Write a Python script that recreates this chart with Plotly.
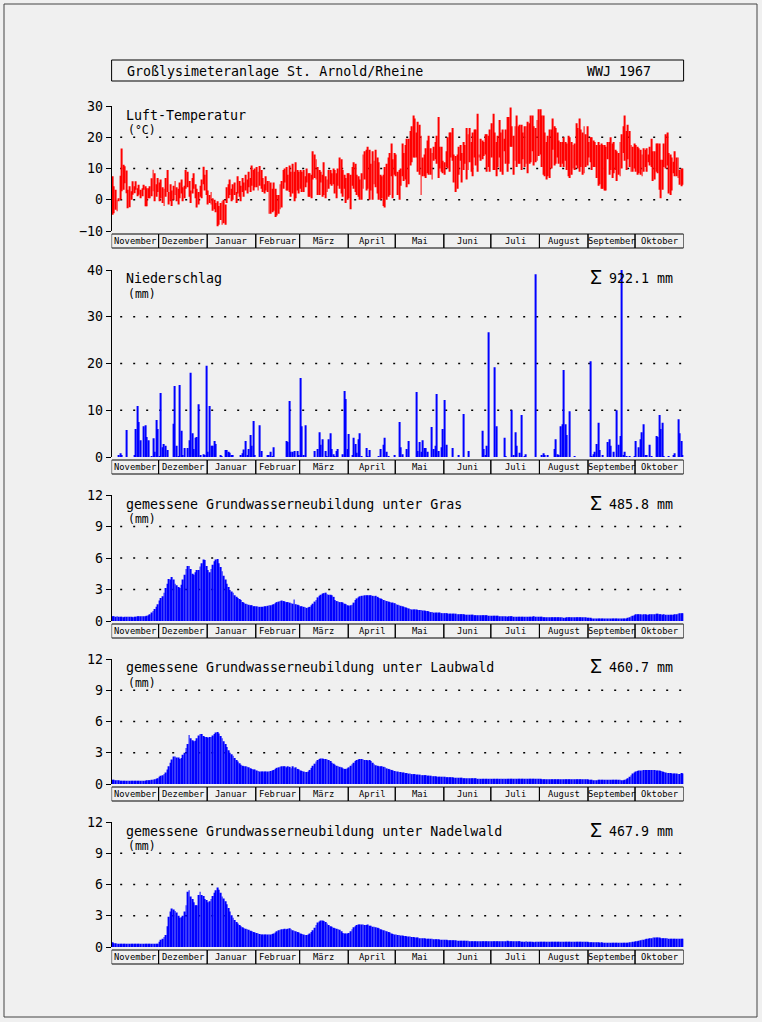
import plotly.graph_objects as go

# ---------------- data ----------------
months = ["November", "Dezember", "Januar", "Februar", "März", "April",
          "Mai", "Juni", "Juli", "August", "September", "Oktober"]
month_days = [30, 31, 31, 28, 31, 30, 31, 30, 31, 31, 30, 31]

# daily air temperature, maximum and minimum (°C)
tmax_nov = [7.5,4.3,3.2,0.0,0.5,7.7,16.4,11.2,10.7,9.4,3.2,4.3,2.7,5.9,4.3,5.9,3.7,4.8,3.2,3.7,4.8,4.3,3.7,3.7,4.3,6.9,9.6,8.5,5.0,7.0]
tmin_nov = [-4.8,-4.3,-3.2,-3.7,-0.5,0.0,2.7,3.2,5.3,2.1,-2.7,-2.4,0.0,1.6,2.1,3.2,1.1,1.6,0.5,1.1,3.2,-2.1,-2.1,0.5,0.5,1.1,2.7,-0.5,1.0,2.5]
tmax_dec = [5.5,6.5,4.0,3.5,7.0,9.5,2.5,5.0,3.0,4.5,6.0,4.0,3.5,5.5,6.5,4.0,4.5,9.5,9.0,6.0,3.0,7.0,8.5,5.0,3.5,2.5,4.5,6.5,10.6,8.0,9.5]
tmin_dec = [-0.5,0.5,-1.0,-2.0,1.0,2.5,-1.5,-0.5,-2.0,0.0,1.5,-0.5,-1.5,0.5,2.0,-0.5,0.5,3.5,4.0,1.0,-1.0,2.0,3.5,0.5,-2.5,-1.5,1.0,0.5,5.0,3.0,1.5]
tmax_jan = [3.0,1.5,2.5,0.5,0.0,-1.0,-0.5,-2.0,-1.0,-0.5,0.0,-1.5,4.0,5.0,6.5,3.5,5.0,5.5,2.5,7.5,6.0,4.5,7.0,5.5,8.0,6.5,9.0,7.0,11.0,9.5,10.0]
tmin_jan = [-1.5,-1.0,-1.5,-3.5,-3.0,-4.0,-8.5,-8.0,-6.5,-8.0,-7.5,-8.0,-1.0,0.5,1.5,-0.5,0.0,1.5,-1.0,2.0,1.0,-0.5,2.5,1.0,3.0,2.0,4.0,2.5,4.5,3.0,4.0]
tmax_feb = [10.5,9.0,10.8,9.5,7.0,5.0,7.5,6.0,6.0,5.5,3.5,5.5,3.5,1.5,1.5,5.0,6.0,9.5,10.0,10.5,8.0,11.0,9.0,11.5,9.0,12.0,9.5,9.0]
tmin_feb = [4.0,3.0,4.5,3.5,2.5,2.0,3.0,2.5,-4.5,-4.5,-4.0,-3.5,-5.5,-5.0,-4.5,-3.0,-2.5,3.5,5.5,3.0,3.0,2.5,1.0,2.0,-0.5,0.5,3.0,2.0]
tmax_mar = [9.5,9.0,9.5,7.5,10.0,8.5,8.5,8.0,15.5,14.5,13.0,10.5,9.5,9.0,8.0,12.0,7.5,6.5,9.5,9.5,8.5,10.0,9.5,8.5,10.0,13.5,13.0,9.5,8.0,7.0,8.5]
tmin_mar = [3.5,2.5,2.5,4.0,5.5,1.0,1.0,0.5,6.5,7.0,6.5,1.5,1.5,5.5,1.0,1.5,0.5,2.5,3.5,5.0,4.5,5.0,2.0,0.5,4.5,3.5,2.0,1.0,3.5,-1.0,0.0]
tmax_apr = [8.5,8.0,10.5,12.0,11.5,8.0,7.5,6.5,8.5,14.5,15.5,16.0,17.0,16.0,11.5,15.5,12.5,16.0,13.5,12.0,8.0,7.5,8.0,10.5,11.5,13.5,15.0,18.0,13.0,15.0]
tmin_apr = [0.5,-3.0,4.5,3.5,2.5,1.5,1.0,0.0,0.0,3.5,6.5,3.0,3.5,0.0,3.0,0.0,5.0,4.0,2.0,0.0,0.0,0.5,-2.0,-2.5,0.0,1.0,1.5,7.5,0.5,8.0]
tmax_may = [14.5,9.0,9.5,10.0,18.0,15.0,17.5,19.5,19.5,22.0,23.5,27.0,26.0,21.5,25.0,24.0,20.5,13.5,14.5,16.5,19.0,20.5,16.5,15.0,17.0,18.5,20.5,26.5,17.0,17.0,12.5]
tmin_may = [7.5,1.5,0.0,4.5,7.5,6.0,6.5,4.0,5.0,11.0,12.0,13.5,13.5,13.5,9.0,8.0,1.5,7.5,7.5,7.0,8.5,8.0,8.0,6.5,12.5,13.0,11.5,7.0,10.0,9.0,8.5]
tmax_jun = [12.0,15.5,20.0,21.5,21.5,23.0,14.5,14.0,14.5,17.0,17.5,15.0,18.5,17.5,23.0,21.0,23.0,18.5,21.5,22.5,22.5,27.5,14.5,19.5,19.0,18.5,21.0,21.0,20.5,22.5]
tmin_jun = [8.0,10.5,10.0,9.0,13.5,12.5,5.5,2.5,3.5,8.0,12.5,5.5,9.5,11.5,6.5,9.5,12.0,9.0,7.5,13.5,11.0,9.0,13.5,12.5,13.0,14.0,14.5,9.0,10.5,9.0]
tmax_jul = [24.5,27.5,21.5,18.5,20.5,25.5,21.5,22.5,19.5,22.5,26.5,26.5,29.5,23.5,20.5,23.5,27.0,23.5,24.0,24.0,21.5,23.5,23.5,25.0,24.5,27.0,27.0,23.5,23.0,25.5,29.0]
tmin_jul = [13.5,9.5,9.5,7.5,10.5,13.5,9.0,8.0,15.5,11.5,9.0,11.5,17.0,17.0,8.0,12.5,10.5,11.5,11.5,9.5,13.0,10.5,11.5,8.5,11.5,12.0,15.5,11.0,12.0,12.5,14.0]
tmax_aug = [29.0,27.0,27.0,21.5,18.5,20.5,22.5,22.5,26.0,23.5,23.0,21.5,19.0,18.5,18.5,20.0,18.5,18.0,20.5,20.0,18.5,17.5,18.0,24.5,23.0,26.0,22.5,21.5,23.5,21.0,23.5]
tmin_aug = [14.5,10.5,8.0,7.5,6.5,7.5,7.0,10.0,16.0,11.0,11.5,13.5,11.5,10.5,11.5,10.5,12.5,9.5,7.5,7.0,8.0,10.0,9.5,11.0,10.0,9.0,10.5,8.0,8.5,10.5,11.0]
tmax_sep = [18.5,20.0,20.0,19.0,18.5,17.5,18.5,17.5,18.0,17.5,17.5,17.0,18.5,18.5,20.0,18.0,18.5,16.0,15.5,15.0,18.5,21.0,23.5,27.0,22.0,24.0,22.0,17.5,17.0,18.0]
tmin_sep = [13.5,12.0,9.5,10.5,10.5,7.0,4.5,5.0,3.5,3.5,3.0,3.0,13.0,8.0,9.5,7.0,8.5,9.5,6.0,8.0,7.5,10.0,15.0,12.5,9.5,13.0,10.5,9.0,9.0,10.0]
tmax_oct = [17.5,17.0,16.5,16.0,14.5,16.5,16.0,16.5,14.5,17.0,19.5,15.5,15.5,18.0,18.0,18.0,12.8,12.8,18.0,21.0,21.5,15.0,14.5,13.5,12.2,15.5,13.5,13.5,9.5,10.0,10.0]
tmin_oct = [9.0,8.0,8.5,8.0,7.5,9.0,10.5,9.0,12.0,11.0,10.5,6.0,6.5,9.0,8.5,3.2,0.5,3.2,10.5,10.0,11.0,2.0,1.5,3.0,8.5,7.5,7.5,7.0,4.8,4.3,4.8]

# daily precipitation (only days with rain): day index from 1 Nov 1966, mm
precip_day = [4,5,6,9,14,15,16,17,18,20,21,22,23,25,26,27,28,29,30,31,32,33,34,35,39,40,41,42,43,44,45,46,48,49,50,
              51,52,53,54,55,56,58,59,60,61,62,63,64,65,66,69,70,72,73,74,75,76,77,82,83,84,85,86,87,88,89,90,91,94,95,
              99,100,101,102,103,111,112,113,114,115,116,118,119,120,121,122,123,129,131,132,133,134,136,137,138,139,
              140,141,142,143,144,147,148,149,150,151,153,154,155,156,157,158,159,162,163,164,170,171,173,174,175,176,
              180,183,184,185,188,189,194,195,196,197,198,199,200,201,204,205,206,207,208,210,211,212,213,217,221,224,
              227,236,237,238,239,240,244,245,250,251,255,256,257,258,260,261,263,264,270,274,275,276,278,282,283,284,
              285,286,287,288,289,290,292,295,305,306,307,308,309,310,311,313,316,317,318,320,322,323,324,325,326,327,
              328,330,333,334,336,337,338,339,340,341,343,344,347,348,349,350,351,352,355,358,359,361,362,363,364]
precip_mm = [0.4,0.8,0.4,5.8,0.4,6.0,10.9,7.5,3.6,6.6,6.8,4.3,3.6,0.2,4.0,1.1,7.9,6.0,0.1,13.7,2.1,2.8,2.4,1.5,7.1,15.2,2.4,0.2,15.4,5.6,0.4,1.9,1.9,3.6,18.0,
             5.1,1.7,4.1,4.3,11.3,0.4,0.6,0.4,19.5,1.1,10.9,2.4,2.4,3.4,2.8,0.4,0.2,1.5,1.5,1.1,0.9,0.3,0.3,0.4,0.8,1.6,3.4,0.4,1.7,4.7,2.4,7.7,0.4,6.8,1.3,
             0.4,0.4,1.1,0.1,2.1,3.4,3.2,12.0,1.1,1.1,1.3,1.3,0.3,16.9,6.6,0.4,6.8,1.3,1.7,5.3,2.6,3.8,1.3,0.1,3.8,5.1,
             1.7,0.6,0.1,1.3,1.7,0.6,14.1,12.4,1.7,4.9,0.4,4.1,2.8,0.9,3.8,5.1,0.1,1.9,0.2,1.5,0.1,1.7,2.6,4.1,1.1,0.2,
             0.4,7.5,2.1,0.6,1.7,3.4,13.9,1.3,3.2,1.1,3.6,1.9,1.9,1.1,6.4,1.7,2.4,13.5,1.3,2.1,6.0,12.2,2.6,1.9,0.4,9.2,
             1.3,5.6,1.7,0.4,2.4,26.7,19.2,6.6,4.1,0.2,10.0,0.4,5.3,2.4,0.9,9.0,0.2,0.6,39.1,0.4,0.8,0.3,0.3,1.7,3.8,0.6,
             0.4,6.6,7.0,18.6,7.0,4.7,9.8,0.1,20.5,0.1,0.6,1.1,2.8,7.3,1.5,0.4,3.2,3.8,2.4,1.1,10.0,2.6,4.5,40.5,0.4,1.1,
             0.1,0.1,0.1,3.4,2.1,3.8,5.3,7.0,0.4,0.4,2.6,0.2,4.5,4.3,9.0,6.0,7.3,0.2,0.2,0.3,0.8,8.1,5.1,3.4,0.4]

# measured groundwater recharge under grass (mm/day)
gras_nov = [0.45,0.45,0.4,0.45,0.4,0.4,0.4,0.35,0.4,0.4,0.4,0.4,0.4,0.35,0.4,0.4,0.45,0.45,0.45,0.45,0.45,0.45,0.5,0.55,0.65,0.8,0.95,1.15,1.35,1.6]
gras_dec = [1.95,2.2,2.35,2.7,3.15,3.55,4.0,3.95,4.2,3.95,3.55,3.4,3.25,3.15,3.45,3.95,4.4,4.95,5.25,5.25,4.95,4.5,4.4,4.65,4.85,4.85,5.2,5.5,5.85,5.8,5.25]
gras_jan = [4.85,4.65,4.95,5.35,5.7,5.85,5.9,5.5,5.15,4.75,4.3,3.95,3.55,3.25,2.95,2.8,2.7,2.45,2.3,2.2,2.1,2.0,1.8,1.75,1.65,1.6,1.55,1.5,1.5,1.4,1.4]
gras_feb = [1.4,1.35,1.35,1.35,1.35,1.4,1.4,1.45,1.5,1.5,1.55,1.6,1.7,1.8,1.85,1.9,1.95,1.9,1.85,1.8,1.8,1.75,1.7,1.65,2.05,1.6,1.55,1.5]
gras_mar = [1.4,1.4,1.35,1.3,1.25,1.3,1.35,1.5,1.65,1.85,2.0,2.25,2.4,2.5,2.6,2.65,2.7,2.55,2.5,2.5,2.45,2.3,2.0,1.9,1.85,1.8,1.8,1.75,1.65,1.6,1.5]
gras_apr = [1.45,1.5,1.55,1.75,2.0,2.15,2.25,2.35,2.4,2.4,2.45,2.45,2.45,2.45,2.45,2.4,2.35,2.4,2.3,2.2,2.15,2.1,2.0,1.95,1.9,1.85,1.8,1.75,1.75,1.7]
gras_may = [1.6,1.55,1.5,1.45,1.4,1.35,1.3,1.25,1.2,1.15,1.1,1.1,1.1,1.1,1.05,1.05,1.05,1.0,1.0,0.95,0.95,0.9,0.85,0.85,0.8,0.8,0.8,0.8,0.8,0.75,0.75]
gras_jun = [0.75,0.75,0.7,0.7,0.7,0.7,0.7,0.7,0.65,0.65,0.65,0.65,0.65,0.6,0.6,0.6,0.6,0.6,0.6,0.55,0.55,0.55,0.55,0.55,0.55,0.55,0.55,0.55,0.5,0.5]
gras_jul = [0.5,0.5,0.5,0.5,0.5,0.45,0.45,0.45,0.45,0.45,0.4,0.45,0.45,0.45,0.4,0.4,0.4,0.4,0.4,0.4,0.4,0.4,0.4,0.4,0.4,0.4,0.4,0.45,0.4,0.4,0.4]
gras_aug = [0.4,0.4,0.35,0.35,0.35,0.35,0.35,0.35,0.35,0.35,0.35,0.35,0.35,0.35,0.35,0.3,0.3,0.35,0.35,0.35,0.35,0.35,0.35,0.35,0.35,0.35,0.35,0.35,0.35,0.35,0.3]
gras_sep = [0.3,0.3,0.25,0.25,0.25,0.25,0.25,0.25,0.25,0.25,0.25,0.25,0.25,0.25,0.25,0.25,0.25,0.25,0.25,0.25,0.25,0.25,0.25,0.25,0.25,0.3,0.35,0.45,0.5,0.55]
gras_oct = [0.65,0.65,0.65,0.65,0.6,0.65,0.65,0.6,0.6,0.65,0.65,0.65,0.65,0.7,0.7,0.65,0.65,0.6,0.65,0.6,0.6,0.6,0.6,0.6,0.6,0.65,0.65,0.7,0.75,0.75,0.75]

# measured groundwater recharge under deciduous forest (mm/day)
laub_nov = [0.4,0.4,0.35,0.35,0.35,0.3,0.3,0.3,0.3,0.3,0.3,0.3,0.3,0.3,0.3,0.3,0.3,0.3,0.3,0.3,0.3,0.3,0.35,0.35,0.35,0.4,0.4,0.45,0.5,0.55]
laub_dec = [0.7,0.8,0.85,0.95,1.1,1.4,1.7,2.05,2.35,2.65,2.65,2.55,2.55,2.4,2.5,2.8,3.0,3.45,3.85,4.7,4.4,4.2,4.1,4.15,4.4,4.65,4.8,4.8,4.6,4.5,4.5]
laub_jan = [4.45,4.5,4.5,4.65,4.8,4.95,5.0,4.85,4.6,4.4,4.1,3.85,3.55,3.25,3.0,2.85,2.7,2.5,2.3,2.15,2.0,1.85,1.75,1.7,1.7,1.65,1.6,1.5,1.45,1.4,1.4]
laub_feb = [1.3,1.25,1.2,1.2,1.2,1.2,1.2,1.2,1.2,1.25,1.3,1.35,1.45,1.55,1.6,1.65,1.7,1.7,1.7,1.6,1.7,1.65,1.5,1.7,1.55,1.6,1.45,1.4]
laub_mar = [1.3,1.25,1.2,1.15,1.15,1.2,1.35,1.55,1.75,1.95,2.15,2.3,2.4,2.45,2.45,2.4,2.4,2.35,2.3,2.2,2.05,1.95,1.85,1.75,1.7,1.65,1.6,1.5,1.45,1.45,1.5]
laub_apr = [1.6,1.75,1.9,2.05,2.2,2.3,2.35,2.4,2.4,2.35,2.3,2.3,2.25,2.3,2.2,2.05,1.9,1.8,1.75,1.7,1.7,1.7,1.65,1.6,1.5,1.45,1.4,1.35,1.3,1.25]
laub_may = [1.2,1.2,1.15,1.15,1.1,1.1,1.05,1.05,1.0,1.0,0.95,0.95,0.95,0.9,0.9,0.9,0.85,0.85,0.85,0.85,0.8,0.8,0.8,0.75,0.75,0.75,0.7,0.7,0.7,0.7,0.7]
laub_jun = [0.7,0.65,0.65,0.65,0.65,0.65,0.6,0.6,0.6,0.6,0.6,0.6,0.55,0.55,0.55,0.55,0.55,0.55,0.55,0.55,0.55,0.5,0.5,0.5,0.5,0.5,0.5,0.5,0.5,0.5]
laub_jul = [0.5,0.5,0.5,0.5,0.5,0.5,0.5,0.5,0.5,0.5,0.5,0.5,0.5,0.5,0.5,0.5,0.5,0.5,0.5,0.5,0.5,0.5,0.5,0.5,0.5,0.5,0.5,0.5,0.5,0.5,0.5]
laub_aug = [0.5,0.45,0.45,0.45,0.45,0.45,0.45,0.45,0.45,0.45,0.45,0.45,0.45,0.45,0.45,0.45,0.45,0.45,0.45,0.45,0.45,0.45,0.45,0.45,0.45,0.45,0.45,0.45,0.45,0.45,0.45]
laub_sep = [0.4,0.4,0.4,0.35,0.35,0.35,0.4,0.4,0.4,0.4,0.4,0.4,0.4,0.4,0.4,0.4,0.4,0.4,0.4,0.4,0.4,0.35,0.35,0.4,0.45,0.55,0.7,0.85,1.0,1.1]
laub_oct = [1.2,1.25,1.3,1.3,1.3,1.35,1.35,1.35,1.35,1.35,1.35,1.35,1.35,1.3,1.3,1.3,1.25,1.2,1.15,1.1,1.05,1.05,1.05,1.0,1.0,1.0,1.0,0.95,0.95,1.05,1.0]

# measured groundwater recharge under coniferous forest (mm/day)
nadel_nov = [0.45,0.35,0.35,0.3,0.3,0.3,0.3,0.3,0.3,0.3,0.3,0.3,0.3,0.3,0.3,0.3,0.3,0.3,0.3,0.3,0.3,0.3,0.3,0.3,0.3,0.3,0.3,0.3,0.3,0.3]
nadel_dec = [0.5,0.7,0.8,0.95,1.15,2.0,2.9,3.4,3.7,3.6,3.45,3.3,3.0,2.8,2.85,3.0,3.4,4.0,5.3,5.45,4.85,4.6,4.3,4.0,4.0,5.0,5.3,5.0,4.9,4.6,4.5]
nadel_jan = [4.3,4.4,4.6,4.9,5.2,5.45,5.7,5.5,5.2,4.85,4.65,4.4,4.1,3.75,3.4,3.05,2.8,2.6,2.4,2.25,2.1,2.0,1.9,1.8,1.75,1.7,1.65,1.55,1.5,1.45,1.4]
nadel_feb = [1.35,1.3,1.25,1.2,1.2,1.2,1.2,1.2,1.2,1.2,1.25,1.3,1.4,1.5,1.6,1.65,1.7,1.7,1.75,1.7,1.75,1.8,1.7,1.6,1.55,1.5,1.45,1.4]
nadel_mar = [1.3,1.25,1.2,1.15,1.15,1.2,1.3,1.45,1.6,1.85,2.1,2.35,2.45,2.55,2.55,2.5,2.4,2.25,2.1,2.0,1.95,1.85,1.8,1.75,1.7,1.65,1.5,1.35,1.3,1.3,1.3]
nadel_apr = [1.35,1.5,1.7,1.9,2.0,2.1,2.15,2.15,2.15,2.15,2.1,2.1,2.15,2.05,2.05,1.95,1.95,1.9,1.85,1.8,1.7,1.65,1.6,1.55,1.5,1.45,1.4,1.3,1.25,1.2]
nadel_may = [1.2,1.15,1.15,1.1,1.1,1.05,1.05,1.0,1.0,1.0,0.95,0.95,0.9,0.9,0.9,0.85,0.85,0.85,0.85,0.8,0.8,0.8,0.8,0.8,0.75,0.75,0.75,0.75,0.7,0.7,0.7]
nadel_jun = [0.7,0.7,0.65,0.65,0.65,0.65,0.65,0.65,0.6,0.6,0.6,0.6,0.6,0.6,0.6,0.6,0.55,0.55,0.55,0.55,0.55,0.55,0.55,0.55,0.55,0.55,0.55,0.55,0.55,0.55]
nadel_jul = [0.55,0.55,0.55,0.55,0.55,0.55,0.55,0.55,0.55,0.55,0.6,0.55,0.55,0.55,0.55,0.55,0.55,0.55,0.55,0.5,0.5,0.5,0.55,0.5,0.5,0.5,0.5,0.45,0.5,0.5,0.5]
nadel_aug = [0.5,0.5,0.5,0.5,0.5,0.5,0.5,0.5,0.5,0.5,0.5,0.5,0.5,0.5,0.5,0.5,0.5,0.5,0.5,0.5,0.5,0.5,0.5,0.5,0.5,0.5,0.5,0.5,0.5,0.5,0.5]
nadel_sep = [0.45,0.45,0.45,0.45,0.45,0.45,0.45,0.4,0.45,0.4,0.4,0.4,0.4,0.4,0.4,0.4,0.4,0.4,0.4,0.4,0.4,0.4,0.4,0.4,0.4,0.4,0.45,0.45,0.5,0.5]
nadel_oct = [0.55,0.55,0.6,0.65,0.7,0.7,0.75,0.8,0.8,0.85,0.85,0.9,0.9,0.9,0.9,0.9,0.85,0.85,0.85,0.85,0.85,0.8,0.8,0.8,0.8,0.8,0.8,0.8,0.8,0.8,0.8]

temp_ticks = [-10, 0, 10, 20, 30]
precip_ticks = [0, 10, 20, 30, 40]
gw_ticks = [0, 3, 6, 9, 12]

# ---------------- assemble ----------------
tmax = tmax_nov + tmax_dec + tmax_jan + tmax_feb + tmax_mar + tmax_apr + tmax_may + tmax_jun + tmax_jul + tmax_aug + tmax_sep + tmax_oct
tmin = tmin_nov + tmin_dec + tmin_jan + tmin_feb + tmin_mar + tmin_apr + tmin_may + tmin_jun + tmin_jul + tmin_aug + tmin_sep + tmin_oct
gras = gras_nov + gras_dec + gras_jan + gras_feb + gras_mar + gras_apr + gras_may + gras_jun + gras_jul + gras_aug + gras_sep + gras_oct
laub = laub_nov + laub_dec + laub_jan + laub_feb + laub_mar + laub_apr + laub_may + laub_jun + laub_jul + laub_aug + laub_sep + laub_oct
nadel = nadel_nov + nadel_dec + nadel_jan + nadel_feb + nadel_mar + nadel_apr + nadel_may + nadel_jun + nadel_jul + nadel_aug + nadel_sep + nadel_oct

W, H = 762, 1022
FONT = "DejaVu Sans Mono"


def py(p):
    return 1 - p / H


def px(p):
    return p / W


X0, X1 = 111.6, 683.6
ndays = sum(month_days)

# panels: (top px, bottom px, range, ticks)
panels = [
    (106, 231, [-10, 30], temp_ticks),
    (270, 457, [0, 40], precip_ticks),
    (495, 621, [0, 12], gw_ticks),
    (659, 784, [0, 12], gw_ticks),
    (822, 947, [0, 12], gw_ticks),
]

fig = go.Figure()

temp_days = list(range(len(tmax)))
fig.add_trace(go.Bar(x=temp_days, y=[a - b for a, b in zip(tmax, tmin)], base=tmin,
                     marker=dict(color="#ff0000", line=dict(width=0)), width=0.6,
                     xaxis="x", yaxis="y"))
fig.add_trace(go.Bar(x=precip_day, y=precip_mm, marker=dict(color="#0000ff", line=dict(width=0)),
                     width=0.65, xaxis="x2", yaxis="y2", cliponaxis=True))
for i, series in enumerate([gras, laub, nadel]):
    fig.add_trace(go.Bar(x=list(range(len(series))), y=series,
                         marker=dict(color="#0000ff", line=dict(width=0)), width=0.55,
                         xaxis=f"x{i + 3}", yaxis=f"y{i + 3}"))

layout = dict(
    template="none",
    width=W, height=H, autosize=False,
    margin=dict(l=0, r=0, t=0, b=0, pad=0, autoexpand=False),
    paper_bgcolor="#f0f0f0", plot_bgcolor="rgba(0,0,0,0)",
    showlegend=False, barmode="overlay",
    font=dict(family=FONT, color="black"),
)
shapes = []
annotations = []

for i, (top, bot, rng, ticks) in enumerate(panels):
    n = "" if i == 0 else str(i + 1)
    layout[f"xaxis{n}"] = dict(domain=[px(X0), px(X1)], range=[-0.5, ndays - 0.5],
                               anchor=f"y{n}", visible=False, fixedrange=True, automargin=False)
    layout[f"yaxis{n}"] = dict(domain=[py(bot), py(top)], range=rng, anchor=f"x{n}",
                               tickvals=ticks, ticks="outside", ticklen=5, tickwidth=1,
                               tickcolor="black", showline=True, linecolor="black", linewidth=1,
                               showgrid=False, zeroline=False, fixedrange=True, automargin=False,
                               tickfont=dict(family=FONT, size=13.3, color="black"))
    # dotted grid lines at interior ticks
    for t in ticks[:-1]:
        if i > 0 and t == 0:
            continue
        if i == 0 and t == ticks[0]:
            continue
        shapes.append(dict(type="line", xref=f"x{n} domain", x0=0.015, x1=1.0,
                           yref=f"y{n}", y0=t, y1=t, layer="below",
                           line=dict(color="black", width=1.6, dash="2px,11px")))
    # month boxes
    start = 0
    for m, d in zip(months, month_days):
        shapes.append(dict(type="rect", xref=f"x{n}", yref="paper",
                           x0=start - 0.5, x1=start + d - 0.5,
                           y0=py(bot + 17), y1=py(bot + 3),
                           line=dict(color="black", width=1)))
        annotations.append(dict(text=m, xref=f"x{n}", yref="paper",
                                x=start + d / 2 - 0.5, y=py(bot + 10), showarrow=False,
                                xanchor="center", yanchor="middle",
                                font=dict(family=FONT, size=8.8, color="black")))
        start += d

# title box
shapes.append(dict(type="rect", xref="paper", yref="paper", x0=px(X0), x1=px(X1),
                   y0=py(81), y1=py(60), line=dict(color="black", width=1)))
# outer frame
shapes.append(dict(type="rect", xref="paper", yref="paper", x0=px(4), x1=px(757),
                   y0=py(1017), y1=py(4), line=dict(color="#444444", width=1)))


def label(text, x, y, size=13.3, anchor="left"):
    annotations.append(dict(text=text, xref="paper", yref="paper", x=px(x), y=py(y),
                            showarrow=False, xanchor=anchor, yanchor="middle",
                            font=dict(family=FONT, size=size, color="black")))


label("Großlysimeteranlage St. Arnold/Rheine", 125, 71)
label("WWJ 1967", 653, 71, anchor="right")

label("Luft-Temperatur", 124, 115)
label("(°C)", 126, 130, size=11.5)

label("Niederschlag", 124, 278)
label("(mm)", 126, 294, size=11.5)

label("gemessene Grundwasserneubildung unter Gras", 124, 504)
label("(mm)", 126, 519, size=11.5)

label("gemessene Grundwasserneubildung unter Laubwald", 124, 667)
label("(mm)", 126, 683, size=11.5)

label("gemessene Grundwasserneubildung unter Nadelwald", 124, 831)
label("(mm)", 126, 846, size=11.5)

for ysum, txt in [(278, "922.1 mm"), (504, "485.8 mm"), (667, "460.7 mm"), (831, "467.9 mm")]:
    label("Σ", 596, ysum - 1, size=20, anchor="center")
    label(txt, 675, ysum, anchor="right")

layout["shapes"] = shapes
layout["annotations"] = annotations
fig.update_layout(**layout)

page_fix = (
    "document.documentElement.style.margin='0';"
    "document.documentElement.style.padding='0';"
    "document.documentElement.style.overflow='hidden';"
    "document.body.style.margin='0';"
    "document.body.style.padding='0';"
    "document.body.style.overflow='hidden';"
    "var gd=document.getElementsByClassName('plotly-graph-div')[0];"
    "gd.style.position='absolute';gd.style.top='0px';gd.style.left='0px';"
)

fig.write_html("out.html", config={"displayModeBar": False}, post_script=page_fix)
